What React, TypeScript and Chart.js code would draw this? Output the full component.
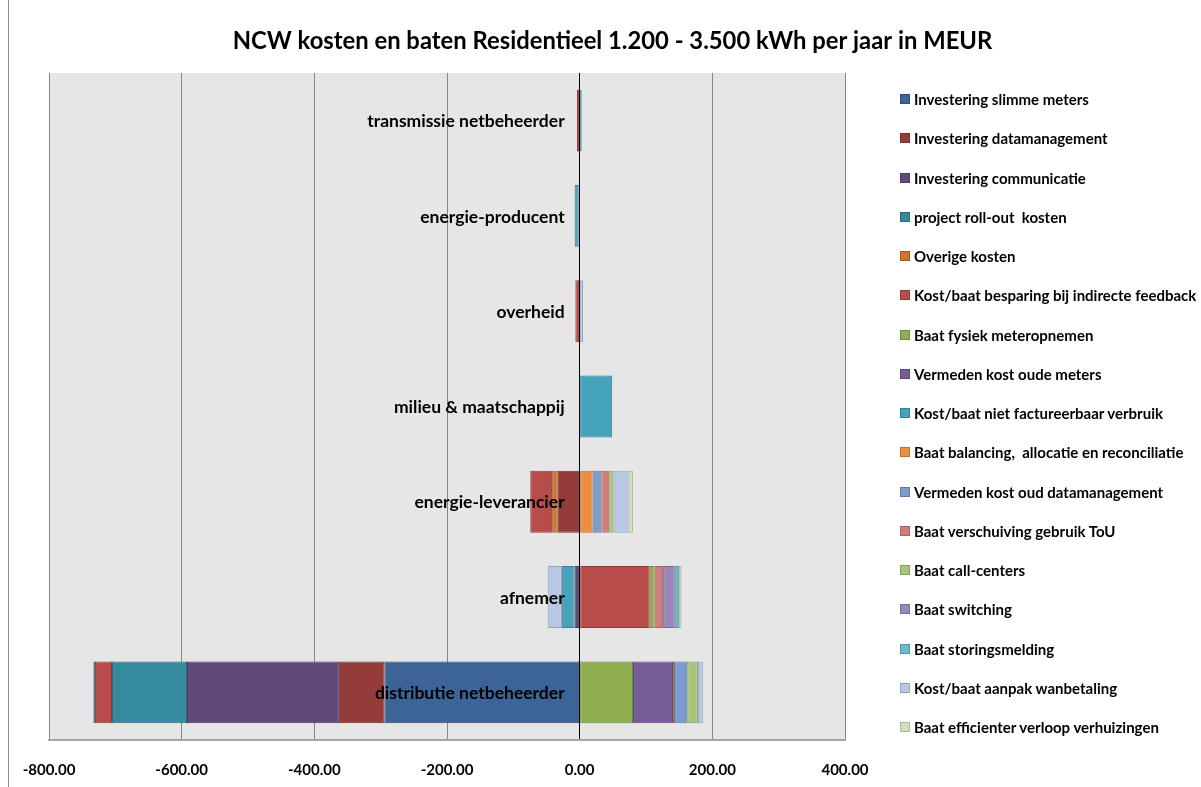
import React, { useEffect, useRef } from "react";
import { Chart, registerables } from "chart.js";

Chart.register(...registerables);

const FONT = "Lato, 'Open Sans', sans-serif";

const chartTitle = "NCW kosten en baten Residentieel 1.200 - 3.500 kWh per jaar in MEUR";

// Categories, top to bottom
const categories = [
  "transmissie netbeheerder",
  "energie-producent",
  "overheid",
  "milieu & maatschappij",
  "energie-leverancier",
  "afnemer",
  "distributie netbeheerder",
];

const xTicks = [-800, -600, -400, -200, 0, 200, 400];

const seriesNames = [
  "Investering slimme meters",
  "Investering datamanagement",
  "Investering communicatie",
  "project roll-out  kosten",
  "Overige kosten",
  "Kost/baat besparing bij indirecte feedback",
  "Baat fysiek meteropnemen",
  "Vermeden kost oude meters",
  "Kost/baat niet factureerbaar verbruik",
  "Baat balancing,  allocatie en reconciliatie",
  "Vermeden kost oud datamanagement",
  "Baat verschuiving gebruik ToU",
  "Baat call-centers",
  "Baat switching",
  "Baat storingsmelding",
  "Kost/baat aanpak wanbetaling",
  "Baat efficienter verloop verhuizingen",
];

// values per category (same order as categories), MEUR
const investeringSlimmeMeters = [0, 0, 0, 0, 0, 0, -294];
const investeringDatamanagement = [0, 0, 0, 0, -33, 0, -69];
const investeringCommunicatie = [0, 0, 0, 0, 0, -7.5, -229];
const projectRollOutKosten = [0, 0, 0, 0, 0, 0, -113];
const overigeKosten = [0, 0, 0, 0, -8.5, 0, 0];
const besparingIndirecteFeedback = [-4, -1.5, -6.5, 0, -33, 105.6, -25.6];
const fysiekMeteropnemen = [0, 0, 0, 0, 0, 7.5, 80.4];
const vermedenOudeMeters = [0, 0, 0, 0, 0, 0, 60.3];
const nietFactureerbaarVerbruik = [3, -6, 0, 49, 0, -19, -2.5];
const balancingAllocatie = [0, 0, 0, 0, 19.6, 0, 1.5];
const vermedenOudDatamanagement = [0, 0, 0, 0, 13, 0, 20];
const verschuivingToU = [0, 0, 0, 0, 12, 12.7, 0];
const callCenters = [0, 0, 0, 0, 6.5, 0, 16];
const switching = [0, 0, 0, 0, 0, 17.6, 0];
const storingsmelding = [0, 0, 0, 0, 0, 6.6, 0];
const aanpakWanbetaling = [0, 0, 5, 0, 22.6, -21.7, 7.5];
const verloopVerhuizingen = [0, 0, 0, 0, 6.6, 3.5, 0];

const seriesValues = [
  investeringSlimmeMeters,
  investeringDatamanagement,
  investeringCommunicatie,
  projectRollOutKosten,
  overigeKosten,
  besparingIndirecteFeedback,
  fysiekMeteropnemen,
  vermedenOudeMeters,
  nietFactureerbaarVerbruik,
  balancingAllocatie,
  vermedenOudDatamanagement,
  verschuivingToU,
  callCenters,
  switching,
  storingsmelding,
  aanpakWanbetaling,
  verloopVerhuizingen,
];

const seriesColors = [
  "#3c6496",
  "#953b3a",
  "#604a7b",
  "#358a9f",
  "#cd7530",
  "#b84c4a",
  "#8fae50",
  "#775d98",
  "#46a3bc",
  "#ec8d42",
  "#7d9bcc",
  "#d07e7c",
  "#a9c57c",
  "#9a87b8",
  "#6fbad0",
  "#b8c8e3",
  "#d1dfbf",
];

const seriesBorders = [
  "#2e4d74",
  "#733030",
  "#4a3a60",
  "#286a7c",
  "#a35c24",
  "#913b39",
  "#718a3f",
  "#5d4877",
  "#377f93",
  "#c06f30",
  "#627aa2",
  "#a86260",
  "#879e62",
  "#7a6a92",
  "#5595a6",
  "#94a3bb",
  "#a9b69a",
];

const plotBackground = {
  id: "plotBackground",
  beforeDraw(chart: any) {
    const { ctx, chartArea } = chart;
    ctx.save();
    ctx.fillStyle = "#e6e6e6";
    ctx.fillRect(chartArea.left, chartArea.top, chartArea.right - chartArea.left, chartArea.bottom - chartArea.top);
    ctx.restore();
  },
};

const categoryLabels = {
  id: "categoryLabels",
  afterDatasetsDraw(chart: any) {
    const { ctx, scales } = chart;
    const x = scales.x;
    const y = scales.y;
    ctx.save();
    ctx.font = `bold 17.5px ${FONT}`;
    ctx.fillStyle = "#000";
    ctx.textAlign = "right";
    ctx.textBaseline = "middle";
    const x0 = x.getPixelForValue(0) - 15;
    categories.forEach((c, i) => {
      ctx.fillText(c, x0, y.getPixelForValue(i) + 1);
    });
    ctx.restore();
  },
};

export default function App() {
  const canvasRef = useRef<HTMLCanvasElement | null>(null);

  useEffect(() => {
    if (!canvasRef.current) return;
    const datasets = seriesNames.map((name, i) => ({
      label: name,
      data: seriesValues[i].map((v) => (v === 0 ? null : v)),
      backgroundColor: seriesColors[i],
      borderColor: seriesBorders[i],
      borderWidth: 1,
      borderSkipped: false,
      barPercentage: 0.65,
      categoryPercentage: 1,
    }));

    const chart = new Chart(canvasRef.current, {
      type: "bar",
      data: { labels: categories, datasets: datasets as any },
      options: {
        indexAxis: "y",
        responsive: false,
        animation: false,
        layout: { padding: { left: 24, right: 0, top: 0, bottom: 0 } },
        plugins: {
          legend: { display: false },
          tooltip: { enabled: false },
          title: {
            display: true,
            text: chartTitle,
            color: "#000",
            font: { family: FONT, size: 23.8, weight: "bold" },
            padding: { top: 27, bottom: 17.4 },
          },
        },
        scales: {
          x: {
            type: "linear",
            position: "bottom",
            stacked: true,
            min: -800,
            max: 400,
            afterBuildTicks: (scale: any) => {
              scale.ticks = xTicks.map((v) => ({ value: v }));
            },
            ticks: {
              color: "#000",
              font: { family: FONT, size: 15, weight: "bold" },
              padding: 21,
              callback: (v: any) => Number(v).toFixed(2),
            },
            grid: {
              drawTicks: false,
              color: (c: any) => (c.tick && c.tick.value === 0 ? "#000000" : "#868686"),
              lineWidth: 1,
            },
            border: { display: true, color: "#a6a6a6", width: 2 },
            afterFit: (scale: any) => {
              scale.height = 47;
            },
          },
          y: {
            type: "category",
            position: "left",
            stacked: true,
            ticks: { display: false },
            grid: { display: false },
            border: { display: false },
            afterFit: (scale: any) => {
              scale.width = 25;
            },
          },
          y2: {
            type: "category",
            position: "right",
            labels: categories,
            ticks: { display: false },
            grid: { display: false },
            border: { display: false },
            afterFit: (scale: any) => {
              scale.width = 356;
            },
          },
        },
      },
      plugins: [plotBackground, categoryLabels],
    });

    return () => chart.destroy();
  }, []);

  return (
    <div style={{ position: "absolute", left: 0, top: 0, width: 1201, height: 787, background: "#fff", overflow: "hidden" }}>
      <div style={{ position: "absolute", left: 8, top: 0, width: 1, height: 787, background: "#8c8c8c" }} />
      <canvas ref={canvasRef} width={1201} height={787} style={{ position: "absolute", left: 0, top: 0 }} />
      {seriesNames.map((name, i) => (
        <div
          key={name}
          style={{
            position: "absolute",
            left: 900,
            top: 99 + i * 39.25 - 10,
            height: 20,
            display: "flex",
            alignItems: "center",
            whiteSpace: "pre",
            fontFamily: FONT,
            fontWeight: 700,
            fontSize: 15,
            color: "#000",
          }}
        >
          <span
            style={{
              display: "inline-block",
              width: 8,
              height: 8,
              background: seriesColors[i],
              border: `1px solid ${seriesBorders[i]}`,
              marginRight: 4,
            }}
          />
          <span>{name}</span>
        </div>
      ))}
    </div>
  );
}
